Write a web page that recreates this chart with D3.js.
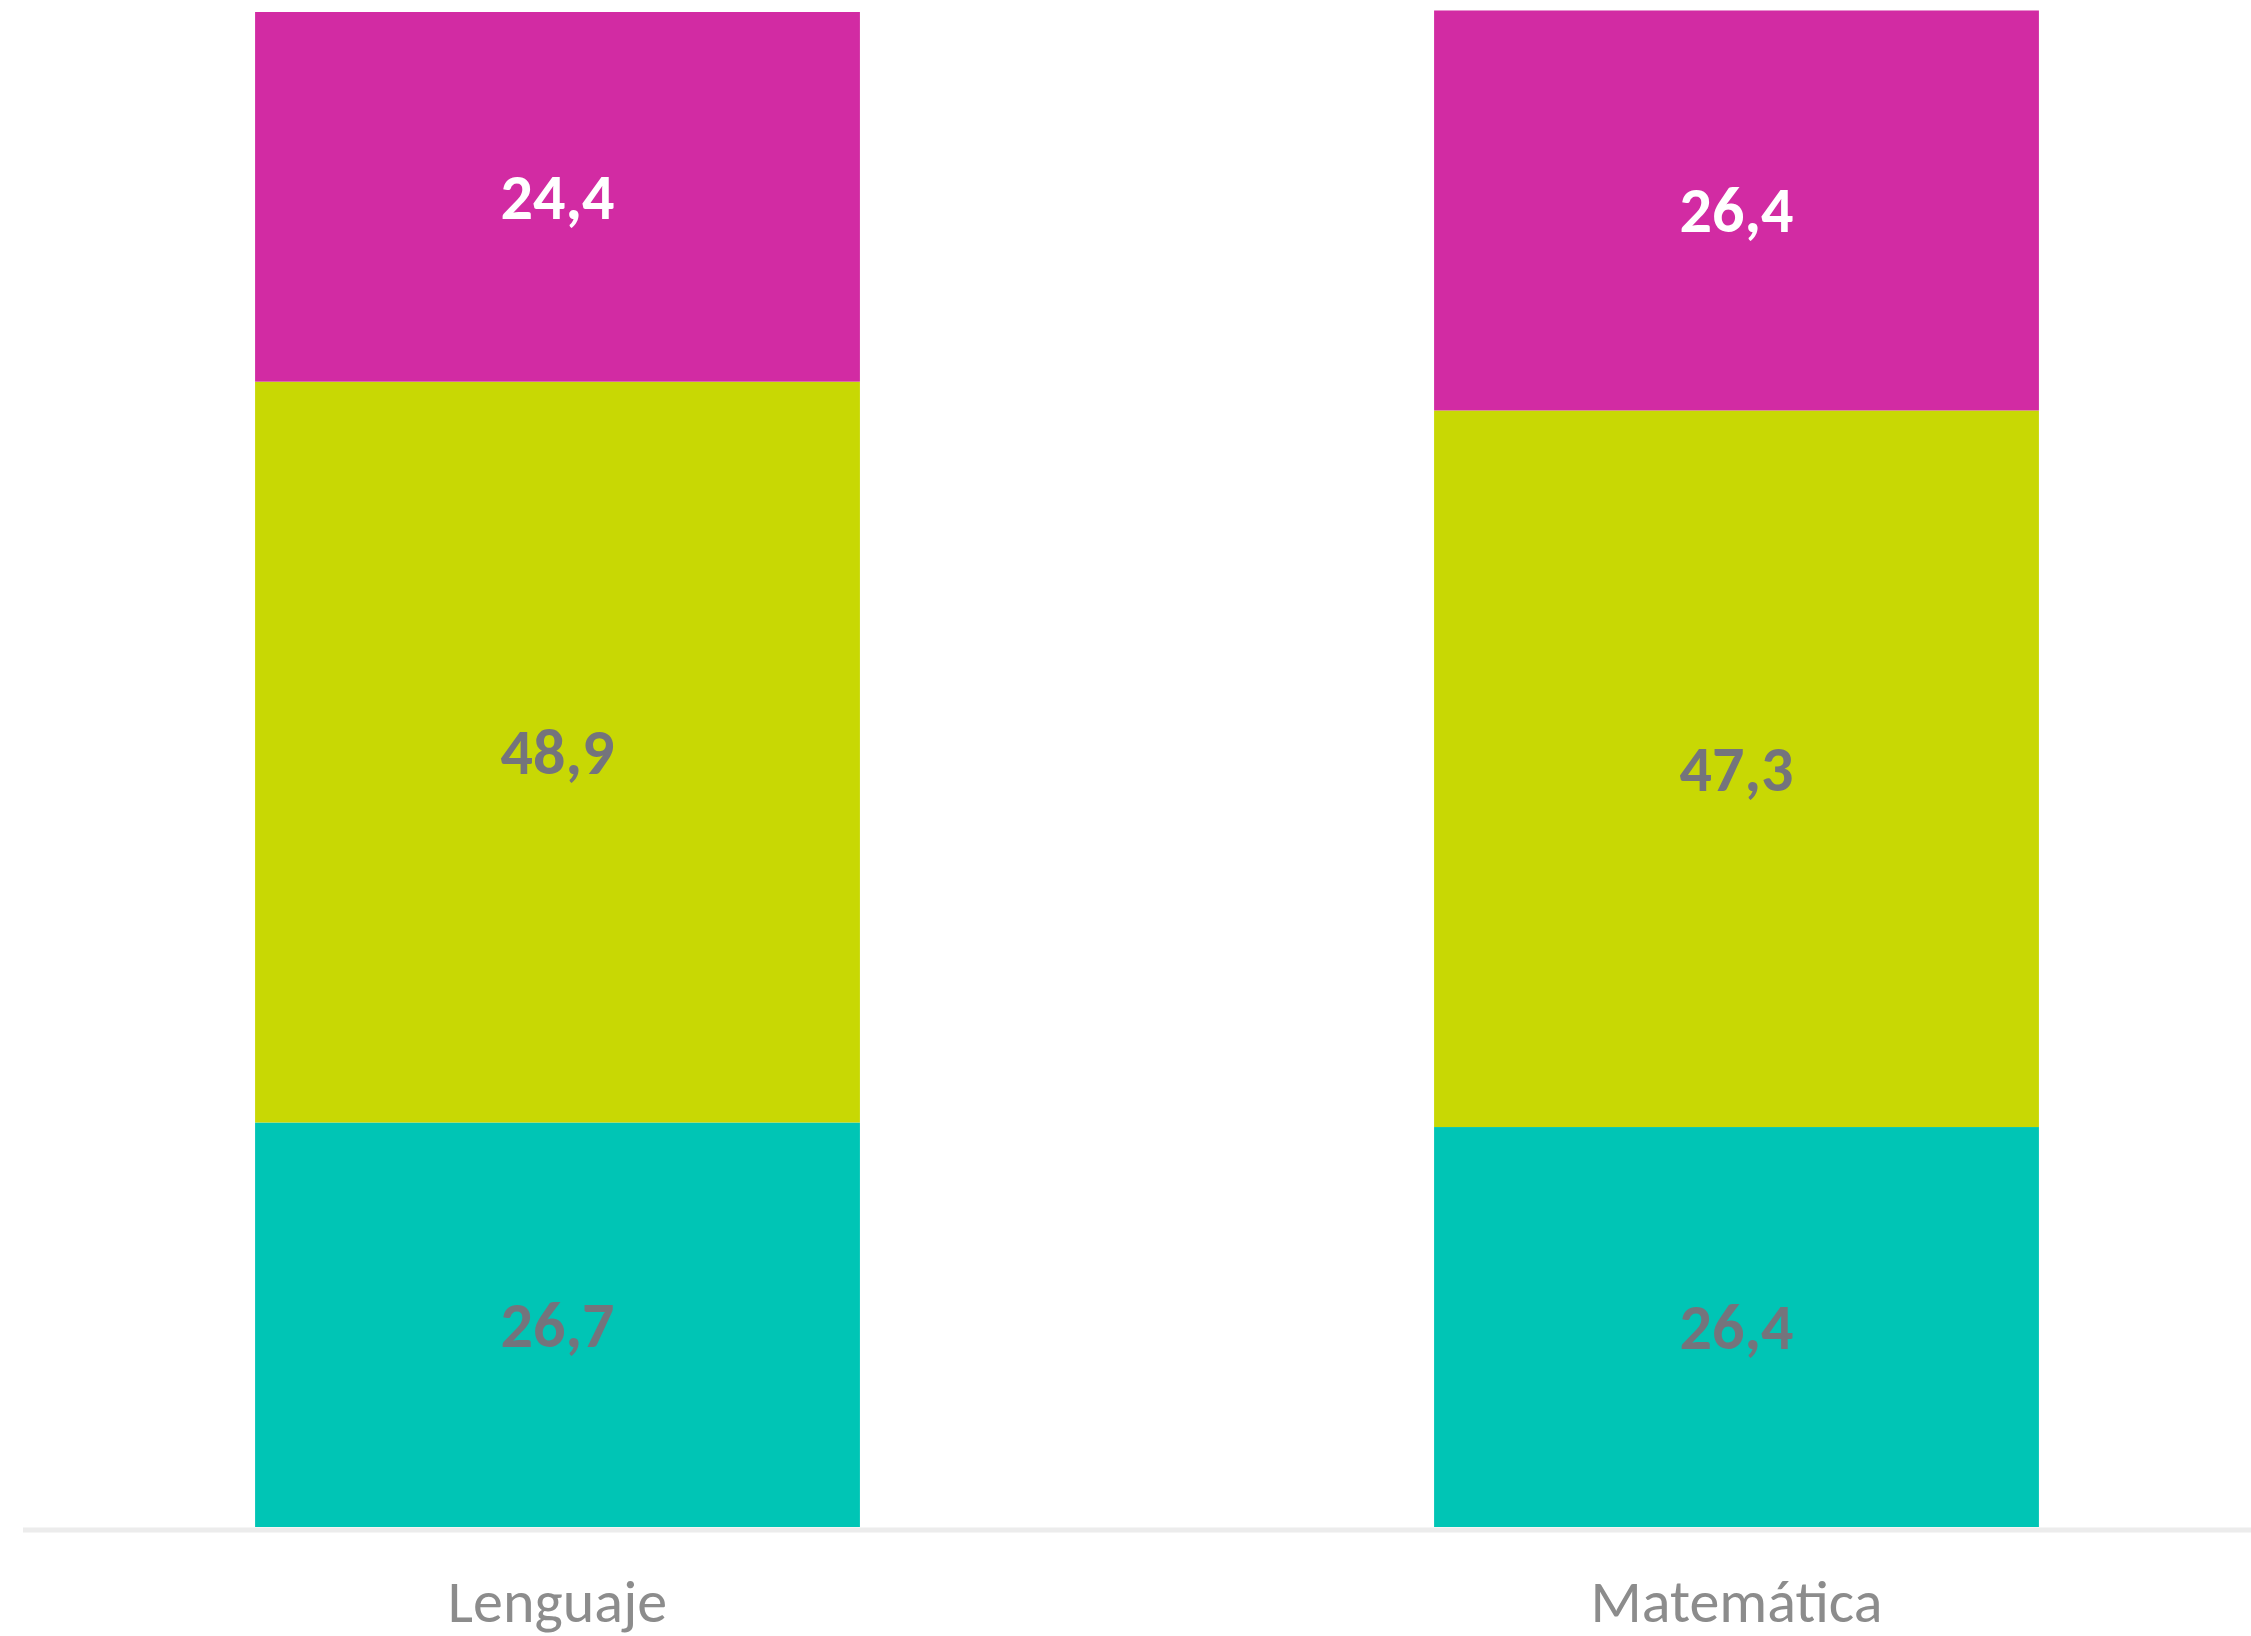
<!DOCTYPE html>
<html lang="es">
	<head>
		<meta charset="utf-8">
		<title>Lenguaje y Matemática</title>
		<script src="https://d3js.org/d3.v7.min.js"></script>
		<style>
			body { margin: 0; background: #fff; }
			text { font-family: Carlito, "Liberation Sans Narrow", "DejaVu Sans Condensed", sans-serif; }
		</style>
	</head>
	<body>
		<div id="chart"></div>

		<script type="text/javascript">

			// data (percentages, bottom to top)
			var categories = ['Lenguaje', 'Matemática'];
			var series = ['bajo', 'medio', 'alto'];
			var bajo = [26.7, 26.4];
			var medio = [48.9, 47.3];
			var alto = [24.4, 26.4];

			var colors = ['#00c5b5', '#c8d804', '#d22ba3'];
			var labelColors = ['#74747c', '#74747c', '#ffffff'];

			// width and height of svg
			var w = 2251;
			var h = 1636;

			var svg = d3.select('#chart')
				.append('svg')
				.attr('width', w)
				.attr('height', h);

			// build rows for d3.stack
			var table = categories.map(function (c, i) {
				return { cat: c, bajo: bajo[i], medio: medio[i], alto: alto[i] };
			});
			var stacked = d3.stack().keys(series)(table);

			// scales (the plot area runs a bit past the left/right edges)
			var x = d3.scaleBand()
				.domain(categories)
				.range([-32, 2326])
				.paddingInner(0.487)
				.paddingOuter(0.2435);

			var y = d3.scaleLinear()
				.domain([0, 100])
				.range([1527, 12]);

			// axis line
			svg.append('line')
				.attr('x1', 23)
				.attr('x2', w)
				.attr('y1', y(0) + 3)
				.attr('y2', y(0) + 3)
				.attr('stroke', '#ececec')
				.attr('stroke-width', 5);

			// bars
			var layers = svg.selectAll('g.layer')
				.data(stacked)
				.enter()
				.append('g')
				.attr('class', 'layer')
				.attr('fill', function (d, i) { return colors[i]; });

			layers.selectAll('rect')
				.data(function (d) { return d; })
				.enter()
				.append('rect')
				.attr('x', function (d) { return x(d.data.cat); })
				.attr('width', x.bandwidth())
				.attr('y', function (d) { return y(d[1]); })
				.attr('height', function (d) { return y(d[0]) - y(d[1]); });

			// value labels
			var fmt = function (v) { return d3.format('.1f')(v).replace('.', ','); };

			stacked.forEach(function (layer, i) {
				svg.append('g')
					.selectAll('text')
					.data(layer)
					.enter()
					.append('text')
					.attr('x', function (d) { return x(d.data.cat) + x.bandwidth() / 2; })
					.attr('y', function (d) { return (y(d[0]) + y(d[1])) / 2; })
					.attr('text-anchor', 'middle')
					.attr('dominant-baseline', 'central')
					.attr('font-size', 64)
					.attr('font-weight', 'bold')
					.attr('fill', labelColors[i])
					.text(function (d) { return fmt(d[1] - d[0]); });
			});

			// category axis
			var gx = svg.append('g')
				.attr('transform', 'translate(0,' + y(0) + ')')
				.call(d3.axisBottom(x).tickSize(0).tickPadding(52));

			gx.select('.domain').remove();
			gx.selectAll('text')
				.attr('font-family', null)
				.attr('font-size', 60)
				.attr('fill', '#8c8c8c');

		</script>
	</body>
</html>
